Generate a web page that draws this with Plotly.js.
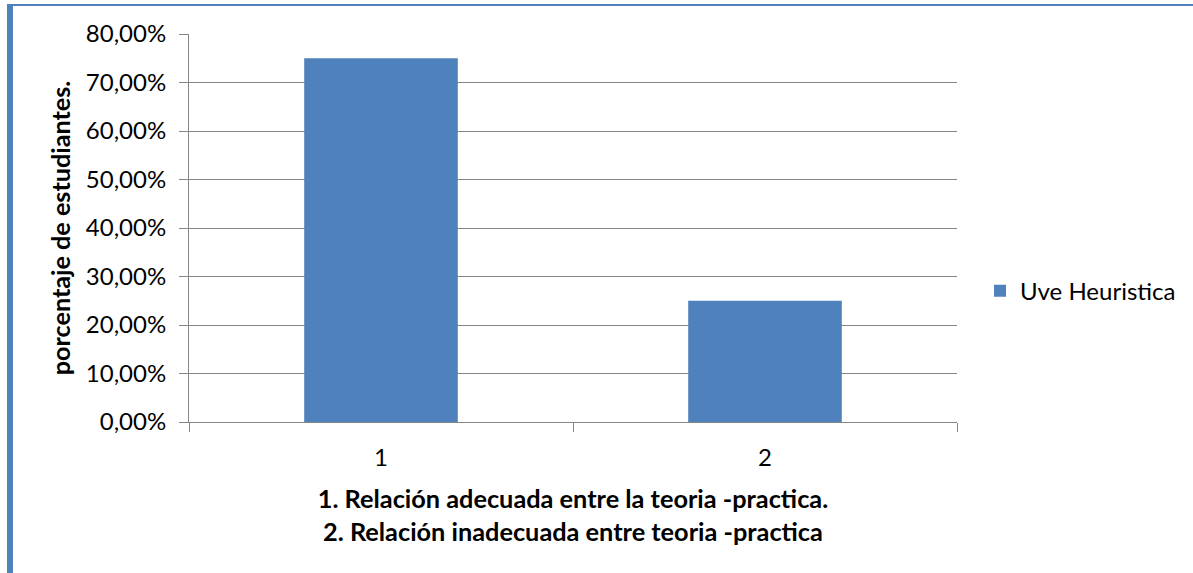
<!DOCTYPE html>
<html>
<head>
<meta charset="utf-8">
<script src="https://cdn.plot.ly/plotly-3.0.1.min.js"></script>
<style>
  html, body { margin: 0; padding: 0; background: #ffffff; }
  #wrap { position: relative; width: 1193px; height: 573px; overflow: hidden; }
  #chart { position: absolute; left: 0; top: 0; width: 1193px; height: 573px; }
  /* blue frame around the chart object (left and top edges visible) */
  #frame { position: absolute; left: 7px; top: 4px; width: 1300px; height: 700px;
           border-left: 6px solid #4F81BD; border-top: 2px solid #4F81BD;
           pointer-events: none; }
</style>
</head>
<body>
<div id="wrap">
  <div id="chart"></div>
  <div id="frame"></div>
</div>
<script>
// categories and values
const categories = ['1', '2'];
const seriesName = 'Uve Heuristica';
const values = [0.75, 0.25];
const yTickValues = [0, 0.1, 0.2, 0.3, 0.4, 0.5, 0.6, 0.7, 0.8];

const FONT = 'Lato, "Open Sans", sans-serif';
const GRID = '#868686';

const trace = {
  type: 'bar',
  x: categories,
  y: values,
  name: seriesName,
  marker: { color: '#4F81BD', line: { width: 0 } },
  width: 0.4,
  showlegend: true,
  hoverinfo: 'x+y'
};

const layout = {
  width: 1193,
  height: 573,
  margin: { l: 189, r: 236, t: 33.5, b: 151, pad: 0 },
  paper_bgcolor: '#ffffff',
  plot_bgcolor: '#ffffff',
  separators: ',.',
  font: { family: FONT, size: 24, color: '#000000' },
  showlegend: true,
  legend: {
    x: 1.03, y: 0.337, xanchor: 'left', yanchor: 'middle',
    font: { family: FONT, size: 24, color: '#000000' },
    itemwidth: 30, bgcolor: 'rgba(0,0,0,0)'
  },
  xaxis: {
    type: 'category',
    tickson: 'boundaries',
    ticks: 'outside', ticklen: 9, tickcolor: GRID, tickwidth: 1,
    showline: true, linecolor: GRID, linewidth: 1,
    showgrid: false, zeroline: false,
    tickfont: { family: FONT, size: 24, color: '#000000' },
    ticklabelstandoff: 14,
    title: {
      text: '<b>1. Relación adecuada entre la teoria -practica.</b><br><b>2. Relación inadecuada entre teoria -practica</b>',
      font: { family: FONT, size: 25.3, color: '#000000' },
      standoff: 20
    }
  },
  yaxis: {
    range: [0, 0.8],
    tickvals: yTickValues,
    tickformat: '.2%',
    ticks: 'outside', ticklen: 9, tickcolor: GRID, tickwidth: 1,
    showline: true, linecolor: GRID, linewidth: 1,
    showgrid: true, gridcolor: GRID, gridwidth: 1,
    zeroline: false,
    tickfont: { family: FONT, size: 24, color: '#000000' },
    ticklabelstandoff: 8,
    title: {
      text: '<b>porcentaje de estudiantes.</b>',
      font: { family: FONT, size: 25.2, color: '#000000' },
      standoff: 8
    }
  }
};

Plotly.newPlot('chart', [trace], layout, { staticPlot: true, displayModeBar: false });
</script>
</body>
</html>
